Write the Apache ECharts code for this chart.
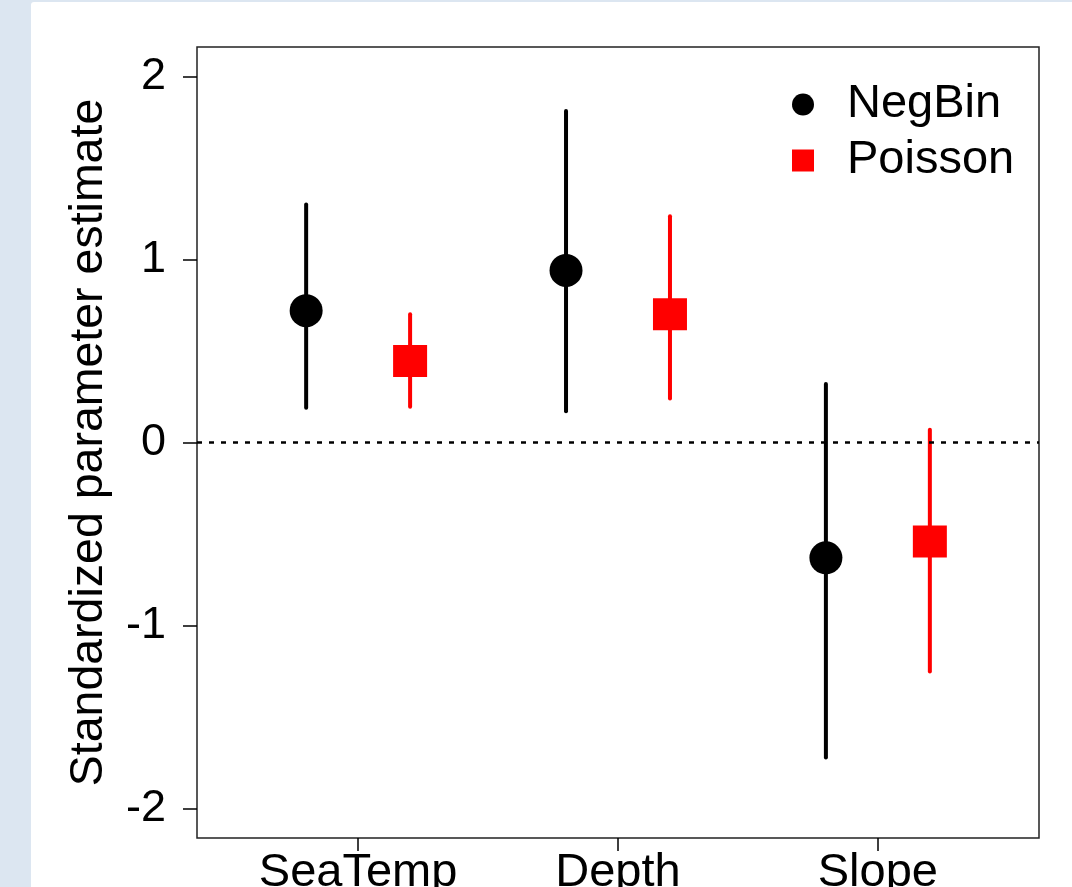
<!DOCTYPE html>
<html>
<head>
<meta charset="utf-8">
<script src="https://cdn.jsdelivr.net/npm/echarts@6/dist/echarts.min.js"></script>
<style>
html, body { margin: 0; padding: 0; background: #dce6f1; }
#panel { position: absolute; left: 31px; top: 2px; right: 0; bottom: 0; background: #fff; border-top-left-radius: 3px; }
#chart { position: absolute; left: 0; top: 0; width: 1072px; height: 887px; }
</style>
</head>
<body>
<div id="panel"></div>
<div id="chart"></div>
<script>
// data
var categories = ['SeaTemp', 'Depth', 'Slope'];
var negbinEst = [0.72, 0.94, -0.63];
var negbinLow = [0.19, 0.17, -1.72];
var negbinHigh = [1.30, 1.81, 0.32];
var poissonEst = [0.445, 0.70, -0.54];
var poissonLow = [0.195, 0.24, -1.25];
var poissonHigh = [0.70, 1.235, 0.07];
var yTicks = [-2, -1, 0, 1, 2];
var xTicks = [1, 2, 3];

var dodge = 0.2;
var font = 'Liberation Sans, Arial, Helvetica, sans-serif';

function _points(est, shift) {
    var out = [];
    for (var i = 0; i < est.length; i++) {
        out.push([i + 1 + shift, est[i]]);
    }
    return out;
}
function _bars(low, high, shift) {
    var out = [];
    for (var i = 0; i < low.length; i++) {
        out.push([i + 1 + shift, low[i], high[i]]);
    }
    return out;
}
function renderBar(params, api) {
    var top = api.coord([api.value(0), api.value(2)]);
    var bot = api.coord([api.value(0), api.value(1)]);
    return {
        type: 'line',
        shape: { x1: top[0], y1: top[1], x2: bot[0], y2: bot[1] },
        style: { stroke: api.visual('color'), lineWidth: 4, lineCap: 'round' }
    };
}

var chart = echarts.init(document.getElementById('chart'));
var option = {
    animation: false,
    backgroundColor: 'transparent',
    grid: {
        left: 197, top: 47, right: 33, bottom: 49,
        outerBoundsMode: 'none',
        containLabel: false,
        show: true, borderColor: '#222', borderWidth: 1.5, backgroundColor: 'transparent'
    },
    legend: {
        orient: 'vertical',
        left: 787,
        top: 76,
        itemWidth: 22,
        itemHeight: 22,
        itemGap: 9,
        data: [{ name: 'NegBin', icon: 'circle' }, { name: 'Poisson', icon: 'rect' }],
        textStyle: { fontSize: 47, lineHeight: 47, fontFamily: font, color: '#000', padding: [0, 0, 0, 28] }
    },
    xAxis: {
        type: 'value',
        min: 0.38,
        max: 3.62,
        axisLine: { show: false, onZero: false },
        splitLine: { show: false },
        axisTick: { show: true, length: 13, customValues: xTicks, lineStyle: { color: '#000', width: 1.5 } },
        axisLabel: {
            customValues: xTicks,
            margin: 12,
            fontSize: 47,
            fontFamily: font,
            color: '#000',
            formatter: function (v) { return categories[Math.round(v) - 1]; }
        }
    },
    yAxis: {
        type: 'value',
        min: -2.16,
        max: 2.16,
        axisLine: { show: false, onZero: false },
        splitLine: { show: false },
        axisTick: { show: true, length: 14, customValues: yTicks, lineStyle: { color: '#000', width: 1.5 } },
        axisLabel: { customValues: yTicks, margin: 31, fontSize: 45, fontFamily: font, color: '#000' },
        name: 'Standardized parameter estimate',
        nameLocation: 'middle',
        nameGap: 84,
        nameTextStyle: { fontSize: 46.5, fontFamily: font, color: '#000' }
    },
    series: [
        {
            name: 'NegBin CI',
            type: 'custom',
            renderItem: renderBar,
            itemStyle: { color: '#000' },
            encode: { x: 0, y: [1, 2] },
            data: _bars(negbinLow, negbinHigh, -dodge),
            z: 2
        },
        {
            name: 'Poisson CI',
            type: 'custom',
            renderItem: renderBar,
            itemStyle: { color: '#ff0000' },
            encode: { x: 0, y: [1, 2] },
            data: _bars(poissonLow, poissonHigh, dodge),
            z: 2
        },
        {
            name: 'NegBin',
            type: 'scatter',
            symbol: 'circle',
            symbolSize: 33,
            itemStyle: { color: '#000', opacity: 1 },
            data: _points(negbinEst, -dodge),
            z: 3,
            markLine: {
                silent: true,
                symbol: 'none',
                label: { show: false },
                lineStyle: { color: '#000', type: [5, 7], width: 2.5 },
                data: [{ yAxis: 0 }]
            }
        },
        {
            name: 'Poisson',
            type: 'scatter',
            symbol: 'rect',
            symbolSize: [34, 32],
            itemStyle: { color: '#ff0000', opacity: 1 },
            data: _points(poissonEst, dodge),
            z: 3
        }
    ]
};
chart.setOption(option);
</script>
</body>
</html>
